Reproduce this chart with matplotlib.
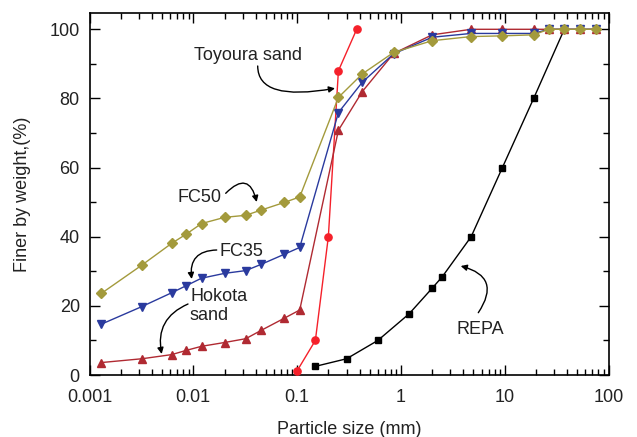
import matplotlib
matplotlib.use("Agg")
import matplotlib.pyplot as plt
from matplotlib.ticker import LogLocator, NullFormatter, FixedLocator, FixedFormatter

plt.rcParams['font.family'] = ['Liberation Sans', 'DejaVu Sans']

# ---- data ----
fine_sizes = [0.0013, 0.0032, 0.0062, 0.0085, 0.012, 0.020, 0.032, 0.045, 0.075, 0.106]
sieve_sizes = [0.25, 0.425, 0.85, 2.0, 4.75, 9.5, 19.0, 26.5, 37.5, 53.0, 75.0]

hokota_x = fine_sizes + sieve_sizes
hokota_y = [3.6, 4.7, 5.9, 7.1, 8.3, 9.4, 10.5, 12.9, 16.4, 18.8,
            70.8, 82.0, 93.0, 98.4, 100, 100, 100, 100, 100, 100, 100]

fc35_x = fine_sizes + sieve_sizes
fc35_y = [14.7, 19.8, 23.8, 25.8, 28.0, 29.4, 30.2, 32.0, 34.9, 36.9,
          75.9, 84.7, 92.9, 97.7, 98.8, 98.8, 98.8, 100, 100, 100, 100]

fc50_x = fine_sizes + sieve_sizes
fc50_y = [23.6, 31.8, 38.1, 40.7, 43.8, 45.6, 46.2, 47.7, 49.9, 51.5,
          80.3, 87.1, 93.3, 96.7, 97.9, 98.1, 98.4, 100, 100, 100, 100]

toyoura_x = [0.100, 0.150, 0.200, 0.250, 0.375]
toyoura_y = [1.2, 10.0, 40.0, 88.0, 100.0]

repa_x = [0.15, 0.30, 0.60, 1.20, 2.0, 2.5, 4.75, 9.5, 19.0, 37.5]
repa_y = [2.5, 4.7, 10.0, 17.7, 25.1, 28.4, 40.0, 60.0, 80.0, 100.0]

xticks = [0.001, 0.01, 0.1, 1, 10, 100]
xtick_labels = ["0.001", "0.01", "0.1", "1", "10", "100"]
yticks = [0, 20, 40, 60, 80, 100]

# ---- figure ----
fig = plt.figure(figsize=(6.37, 4.37), dpi=100)
ax = fig.add_axes([89.5 / 637, 1 - 375 / 437, (608.5 - 89.5) / 637, (375 - 12.7) / 437])

lw = 1.0
ax.plot(toyoura_x, toyoura_y, color='#F5202A', lw=lw, marker='o', ms=5.2, zorder=3)
ax.plot(hokota_x, hokota_y, color='#B02A32', lw=lw, marker='^', ms=6.0, zorder=4)
ax.plot(fc35_x, fc35_y, color='#2A3A9E', lw=lw, marker='v', ms=6.0, zorder=5)
ax.plot(fc50_x, fc50_y, color='#A39A3C', lw=lw, marker='D', ms=5.0, zorder=6)
ax.plot(repa_x, repa_y, color='black', lw=lw, marker='s', ms=4.8, zorder=3)

ax.set_xscale('log')
ax.set_xlim(0.001, 100)
ax.set_ylim(0, 104.8)

ax.xaxis.set_major_locator(FixedLocator(xticks))
ax.xaxis.set_major_formatter(FixedFormatter(xtick_labels))
ax.xaxis.set_minor_locator(LogLocator(base=10, subs=range(2, 10), numticks=20))
ax.xaxis.set_minor_formatter(NullFormatter())
ax.set_yticks(yticks)
ax.set_yticks(range(10, 101, 20), minor=True)

ax.tick_params(which='both', direction='in', top=True, right=True, width=1.0,
               labelsize=13, labelcolor='#222222')
ax.tick_params(which='major', length=7)
ax.tick_params(which='minor', length=4)
ax.tick_params(axis='x', which='major', pad=10)
ax.tick_params(axis='y', which='major', pad=7)
for s in ax.spines.values():
    s.set_linewidth(1.2)

ax.set_xlabel("Particle size (mm)", fontsize=13, labelpad=11, color='#222222')
ax.set_ylabel("Finer by weight,(%)", fontsize=13, labelpad=13, color='#222222')

# ---- annotations (figure-pixel coordinates) ----
H = 437
def fp(x, y):
    return (x, H - y)

txt = dict(fontsize=13, color='#222222', xycoords='figure pixels')
ax.annotate("Toyoura sand", xy=fp(248, 56), ha='center', va='center', **txt)
ax.annotate("FC50", xy=fp(199.5, 197.5), ha='center', va='center', **txt)
ax.annotate("FC35", xy=fp(241.5, 251), ha='center', va='center', **txt)
ax.annotate("Hokota\nsand", xy=fp(190, 306), ha='left', va='center', linespacing=1.2, **txt)
ax.annotate("REPA", xy=fp(480, 330), ha='center', va='center', **txt)

arrow = dict(arrowstyle='-|>', color='black', lw=1.0, mutation_scale=9, shrinkA=0, shrinkB=0)
def arr(start, end, cs):
    ax.annotate("", xy=fp(*end), xytext=fp(*start), xycoords='figure pixels',
                textcoords='figure pixels', arrowprops=dict(arrow, connectionstyle=cs))

arr((257.7, 66), (335, 88.3), "angle3,angleA=90,angleB=10")
arr((225.7, 193.3), (256.7, 202), "arc3,rad=-0.9")
arr((216.7, 250), (191.7, 279), "arc3,rad=0.55")
arr((188, 304), (161.7, 354), "arc3,rad=0.4")
arr((478.3, 312.7), (460.7, 266), "arc3,rad=0.7")

fig.savefig("out.png", dpi=100)
